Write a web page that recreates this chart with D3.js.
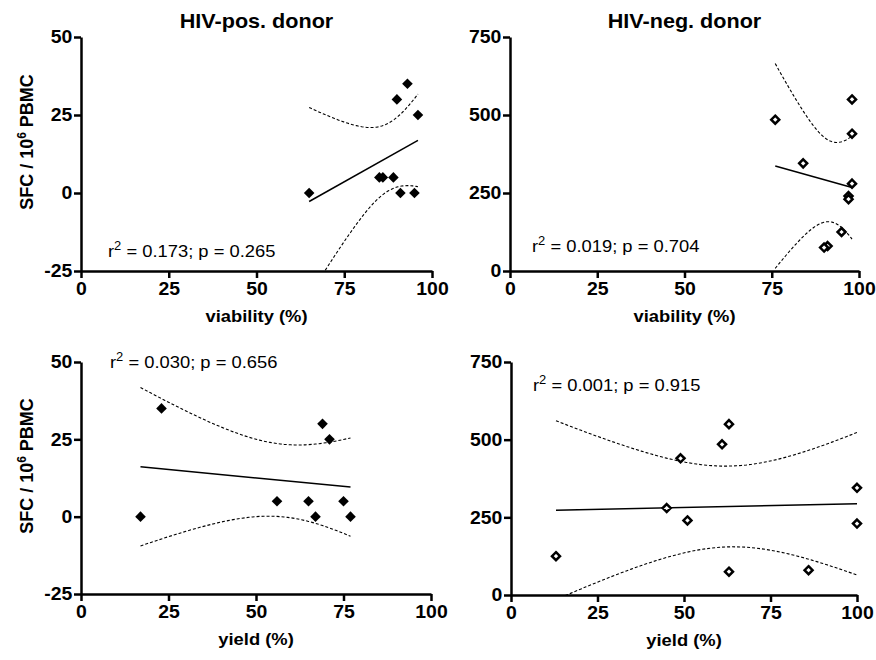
<!DOCTYPE html>
<html>
<head>
<meta charset="utf-8">
<script src="https://cdn.jsdelivr.net/npm/d3@7.9.0/dist/d3.min.js"></script>
<style>
  body { margin: 0; background: #fff; }
  svg { font-family: "Liberation Sans", Arial, Helvetica, sans-serif; }
  .axis path, .axis line { stroke: #000; stroke-width: 2.5; }
  .axis text { font-size: 18px; font-weight: bold; fill: #000; }
</style>
</head>
<body>
<svg id="chart" width="876" height="660"></svg>
<script>
// HIV-positive donor: spot forming cells and cell quality
const sfcPos = [0, 5, 5, 5, 0, 0, 30, 35, 25];
const viabilityPos = [65, 85, 86, 89, 91, 95, 90, 93, 96];
const yieldPos = [17, 56, 65, 75, 67, 77, 69, 23, 71];

// HIV-negative donor
const sfcNeg = [550, 485, 440, 345, 280, 240, 230, 125, 80, 75];
const viabilityNeg = [98, 76, 98, 84, 98, 97, 97, 95, 91, 90];
const yieldNeg = [63, 61, 49, 100, 45, 51, 100, 13, 86, 63];

const xTicks = [0, 25, 50, 75, 100];
const yTicksPos = [-25, 0, 25, 50];
const yTicksNeg = [0, 250, 500, 750];

const statsText = {
  posViability: ["0.173", "0.265"],
  negViability: ["0.019", "0.704"],
  posYield: ["0.030", "0.656"],
  negYield: ["0.001", "0.915"],
};

// two-sided 95% t quantiles by degrees of freedom
const tCrit = { 7: 2.3646, 8: 2.306 };

const svg = d3.select("#chart");
const stretch = "scale(1.08,1)";

const panels = [
  {
    box: { x0: 81, x1: 432, y0: 37, y1: 271 },
    xs: viabilityPos, ys: sfcPos, yTicks: yTicksPos, open: false,
    xLabel: "viability (%)", title: "HIV-pos. donor", yTitle: true,
    stats: statsText.posViability, statsAt: [108, 257],
  },
  {
    box: { x0: 510, x1: 859, y0: 37, y1: 271 },
    xs: viabilityNeg, ys: sfcNeg, yTicks: yTicksNeg, open: true,
    xLabel: "viability (%)", title: "HIV-neg. donor", yTitle: false,
    stats: statsText.negViability, statsAt: [532, 252],
  },
  {
    box: { x0: 81, x1: 431, y0: 362, y1: 594 },
    xs: yieldPos, ys: sfcPos, yTicks: yTicksPos, open: false,
    xLabel: "yield (%)", title: null, yTitle: true,
    stats: statsText.posYield, statsAt: [110, 368],
  },
  {
    box: { x0: 511, x1: 857, y0: 362, y1: 595 },
    xs: yieldNeg, ys: sfcNeg, yTicks: yTicksNeg, open: true,
    xLabel: "yield (%)", title: null, yTitle: false,
    stats: statsText.negYield, statsAt: [533, 391],
  },
];

function linearFit(xs, ys) {
  const n = xs.length;
  const mx = d3.mean(xs);
  const my = d3.mean(ys);
  const sxx = d3.sum(xs, (x) => (x - mx) ** 2);
  const sxy = d3.sum(xs, (x, i) => (x - mx) * (ys[i] - my));
  const slope = sxy / sxx;
  const intercept = my - slope * mx;
  const ssRes = d3.sum(xs, (x, i) => (ys[i] - (intercept + slope * x)) ** 2);
  const s = Math.sqrt(ssRes / (n - 2));
  const t = tCrit[n - 2];
  const predict = (x) => intercept + slope * x;
  const half = (x) => t * s * Math.sqrt(1 / n + (x - mx) ** 2 / sxx);
  return { predict, half };
}

function diamond(r) {
  return `M0,${-r}L${r},0L0,${r}L${-r},0Z`;
}

function drawPanel(p, idx) {
  const { box } = p;
  const x = d3.scaleLinear().domain([0, 100]).range([box.x0, box.x1]);
  const yDomain = d3.extent(p.yTicks);
  const y = d3.scaleLinear().domain(yDomain).range([box.y1, box.y0]);

  const clipId = `clip-${idx}`;
  svg.append("clipPath").attr("id", clipId)
    .append("rect")
    .attr("x", box.x0).attr("y", box.y0)
    .attr("width", box.x1 - box.x0).attr("height", box.y1 - box.y0);

  // regression line and 95% confidence bands
  const fit = linearFit(p.xs, p.ys);
  const [xmin, xmax] = d3.extent(p.xs);
  const grid = d3.range(0, 61).map((i) => xmin + (xmax - xmin) * i / 60);
  const line = d3.line().x((d) => x(d[0])).y((d) => y(d[1]));

  const fits = svg.append("g").attr("clip-path", `url(#${clipId})`);
  fits.append("path")
    .attr("d", line([[xmin, fit.predict(xmin)], [xmax, fit.predict(xmax)]]))
    .attr("fill", "none").attr("stroke", "#000").attr("stroke-width", 1.5);
  [1, -1].forEach((sign) => {
    fits.append("path")
      .attr("d", line(grid.map((v) => [v, fit.predict(v) + sign * fit.half(v)])))
      .attr("fill", "none").attr("stroke", "#000")
      .attr("stroke-width", 1.1).attr("stroke-dasharray", "3,2");
  });

  // points
  svg.append("g")
    .selectAll("path")
    .data(p.xs.map((v, i) => [v, p.ys[i]]))
    .join("path")
    .attr("transform", (d) => `translate(${x(d[0])},${y(d[1])})`)
    .attr("d", p.open ? diamond(4) : diamond(5.3))
    .attr("fill", p.open ? "#fff" : "#000")
    .attr("stroke", "#000")
    .attr("stroke-width", p.open ? 2.5 : 0);

  // axes
  const xAxis = svg.append("g").attr("class", "axis")
    .attr("transform", `translate(0,${box.y1})`)
    .call(d3.axisBottom(x).tickValues(xTicks).tickSize(7).tickSizeOuter(0)
      .tickFormat((d) => String(d)));
  xAxis.selectAll("text").attr("y", 11).attr("transform", stretch);

  const yAxis = svg.append("g").attr("class", "axis")
    .attr("transform", `translate(${box.x0},0)`)
    .call(d3.axisLeft(y).tickValues(p.yTicks).tickSize(7).tickSizeOuter(0)
      .tickFormat((d) => String(d)));
  yAxis.selectAll("text").attr("x", -8).attr("transform", stretch);

  // x axis title
  svg.append("text")
    .attr("transform", `translate(${(box.x0 + box.x1) / 2},${box.y1 + 51}) ${stretch}`)
    .attr("text-anchor", "middle")
    .attr("font-size", 17).attr("font-weight", "bold")
    .text(p.xLabel);

  if (p.title) {
    svg.append("text")
      .attr("transform", `translate(${(box.x0 + box.x1) / 2},28) ${stretch}`)
      .attr("text-anchor", "middle")
      .attr("font-size", 20).attr("font-weight", "bold")
      .text(p.title);
  }

  if (p.yTitle) {
    const t = svg.append("text")
      .attr("transform", `translate(33,${(box.y0 + box.y1) / 2 - 12}) rotate(-90)`)
      .attr("text-anchor", "middle")
      .attr("font-size", 18).attr("font-weight", "bold");
    t.append("tspan").text("SFC / 10");
    t.append("tspan").attr("font-size", 12).attr("dy", -7).text("6");
    t.append("tspan").attr("dy", 7).text(" PBMC");
  }

  // r² and p annotation
  const s = svg.append("text")
    .attr("transform", `translate(${p.statsAt[0]},${p.statsAt[1]}) ${stretch}`)
    .attr("font-size", 17);
  s.append("tspan").text("r");
  s.append("tspan").attr("font-size", 12).attr("dy", -7).text("2");
  s.append("tspan").attr("dy", 7).text(` = ${p.stats[0]}; p = ${p.stats[1]}`);
}

panels.forEach(drawPanel);
</script>
</body>
</html>
